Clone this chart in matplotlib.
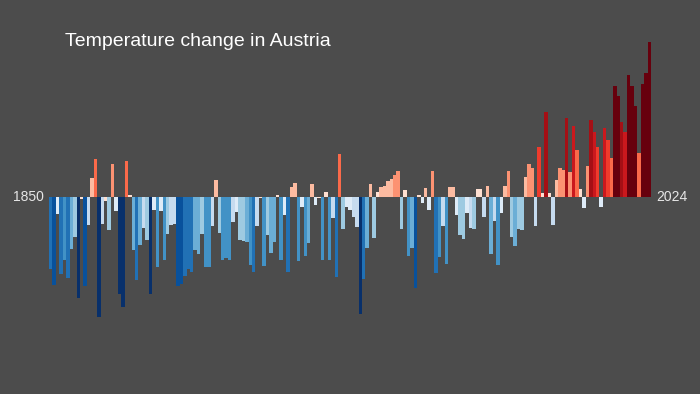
import matplotlib
matplotlib.use("Agg")
import matplotlib.pyplot as plt
from matplotlib.colors import ListedColormap, Normalize
import numpy as np

# Data: annual temperature anomaly for Austria (°C), 1850-2024
years = list(range(1850, 2025))
anomaly = [
    -1.44, -1.76, -0.34, -1.54, -1.26, -1.62, -1.04, -0.80, -2.02, -0.04,
    -1.78, -0.56, 0.38, 0.76, -2.40, -0.54, -0.08, -0.66, 0.66, -0.28,
    -1.94, -2.20, 0.72, 0.04, -1.06, -1.66, -0.96, -0.62, -0.86, -1.94,
    -0.26, -1.40, -0.28, -1.26, -0.74, -0.56, -0.54, -1.78, -1.74, -1.58,
    -1.44, -1.50, -1.06, -1.14, -0.74, -1.40, -1.40, -0.58, 0.34, -0.72,
    -1.26, -1.22, -1.26, -0.50, -0.30, -0.86, -0.88, -0.90, -1.36, -1.50,
    -0.58, -0.02, -1.38, -0.76, -1.12, -0.90, 0.04, -1.26, -0.36, -1.50,
    0.20, 0.28, -1.28, -0.20, -1.18, -0.92, 0.26, -0.16, -0.02, -1.26,
    0.10, -1.26, -0.42, -1.60, 0.86, -0.64, -0.20, -0.26, -0.40, -0.60,
    -2.34, -1.64, -1.02, 0.26, -0.82, 0.10, 0.20, 0.22, 0.32, 0.36,
    0.44, 0.52, -0.64, 0.14, -1.18, -1.02, -1.82, 0.04, -0.12, 0.18,
    -0.26, 0.52, -1.52, -1.20, -0.58, -1.34, 0.20, 0.20, -0.36, -0.76,
    -0.84, -0.32, -0.62, -0.64, 0.16, 0.16, -0.40, 0.22, -1.14, -0.48,
    -1.36, -0.32, 0.22, 0.52, -0.80, -0.98, -0.64, -0.66, 0.40, 0.66,
    0.58, -0.58, 1.00, 0.08, 1.70, 0.08, -0.56, 0.34, 0.58, 0.54,
    1.58, 0.50, 1.42, 0.94, 0.16, -0.22, 0.62, 1.54, 1.30, 1.00,
    -0.20, 1.38, 1.14, 0.78, 2.22, 2.02, 1.50, 1.30, 2.44, 2.22,
    1.82, 0.88, 2.26, 2.48, 3.10,
]
assert len(anomaly) == len(years)

title = "Temperature change in Austria"
start_label = "1850"
end_label = "2024"

stripe_colors = [
    "#08306b", "#08519c", "#2171b5", "#4292c6", "#6baed6", "#9ecae1",
    "#c6dbef", "#deebf7", "#fee0d2", "#fcbba1", "#fc9272", "#fb6a4a",
    "#ef3b2c", "#cb181d", "#a50f15", "#67000d",
]
cmap = ListedColormap(stripe_colors)
norm = Normalize(vmin=-2.2, vmax=2.0, clip=True)

bg = "#4c4c4c"
fig = plt.figure(figsize=(7.0, 3.94), dpi=100, facecolor=bg)
ax = fig.add_axes([49 / 700, 0.0, 602 / 700, 1.0])
ax.set_facecolor(bg)

vals = np.array(anomaly)
ax.bar(years, vals, width=1.0, color=cmap(norm(vals)), linewidth=0)
ax.set_xlim(years[0] - 0.5, years[-1] + 0.5)
ax.set_ylim(-3.94, 3.94)
ax.axis("off")

fig.text(44 / 700, 1 - 197 / 394, start_label, ha="right", va="center",
         color="#e6e6e6", fontsize=10, family="Liberation Sans")
fig.text(656 / 700, 1 - 197 / 394, end_label, ha="left", va="center",
         color="#e6e6e6", fontsize=10, family="Liberation Sans")
fig.text(65 / 700, 1 - 41 / 394, title, ha="left", va="center",
         color="white", fontsize=14, family="Liberation Sans")

fig.savefig("out.png", dpi=100, facecolor=bg)
